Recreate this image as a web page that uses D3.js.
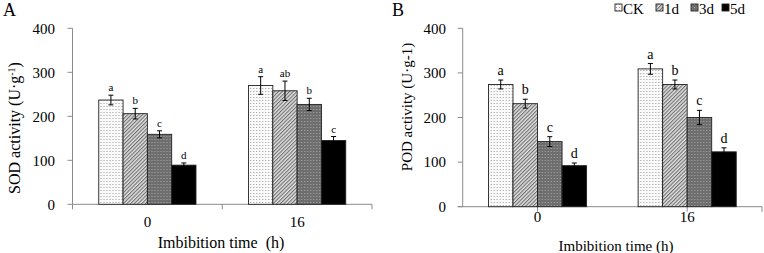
<!DOCTYPE html>
<html><head><meta charset="utf-8">
<script src="https://cdn.jsdelivr.net/npm/d3@7"></script>
<style>body{margin:0;background:#fff}svg{display:block}svg text{font-family:"Liberation Serif","Times New Roman",serif;fill:#000}</style>
</head><body>
<svg id="c" width="764" height="253" font-family="Liberation Serif"></svg>
<script>
const categories = ["0", "16"];
const series = ["CK", "1d", "3d", "5d"];
const yTicks = [0, 100, 200, 300, 400];
// Panel A: SOD
const sodValues = [[237, 206, 159, 89], [270, 258, 227, 145]];
const sodErrors = [[11, 12, 8, 5], [20, 22, 14, 9]];
const sodLetters = [["a", "b", "c", "d"], ["a", "ab", "b", "c"]];
// Panel B: POD
const podValues = [[274, 231, 146, 92], [309, 274, 200, 123]];
const podErrors = [[10, 10, 11, 6], [12, 10, 16, 9]];
const podLetters = [["a", "b", "c", "d"], ["a", "b", "c", "d"]];

const svg = d3.select("#c");
const defs = svg.append("defs");
// CK: white with grey dots
const p1 = defs.append("pattern").attr("id","pCK").attr("patternUnits","userSpaceOnUse").attr("width",3).attr("height",3);
p1.append("rect").attr("width",3).attr("height",3).attr("fill","#fafafa");
p1.append("rect").attr("x",1).attr("y",1).attr("width",1).attr("height",1).attr("fill","#9a9a9a");
// 1d: diagonal hatch
const p2 = defs.append("pattern").attr("id","p1d").attr("patternUnits","userSpaceOnUse").attr("width",2.6).attr("height",2.6).attr("patternTransform","rotate(-45)");
p2.append("rect").attr("width",2.6).attr("height",2.6).attr("fill","#e0e0e0");
p2.append("rect").attr("width",2.6).attr("height",1.1).attr("fill","#707070");
// 3d: dark grey with light dots
const p3 = defs.append("pattern").attr("id","p3d").attr("patternUnits","userSpaceOnUse").attr("width",3).attr("height",3);
p3.append("rect").attr("width",3).attr("height",3).attr("fill","#6e6e6e");
p3.append("rect").attr("x",1).attr("y",1).attr("width",1).attr("height",1).attr("fill","#a8a8a8");
const fills = {"CK":"url(#pCK)","1d":"url(#p1d)","3d":"url(#p3d)","5d":"#000"};
const axisColor = "#8a8a8a";

function panel(o) {
  const g = svg.append("g");
  const y = d3.scaleLinear().domain([0, 400]).range([o.y0, o.y400]);
  const x0 = d3.scaleBand().domain(categories).range([o.xl, o.xr]).padding(0);
  const x1 = d3.scaleBand().domain(series).range([0, x0.bandwidth()]).paddingInner(0).paddingOuter(o.po);
  // y axis
  g.append("line").attr("x1",o.xl).attr("x2",o.xl).attr("y1",y(400)).attr("y2",y(0)).attr("stroke",axisColor);
  g.selectAll(".yt").data(yTicks).join("line").attr("x1",o.xl-5).attr("x2",o.xl).attr("y1",d=>y(d)).attr("y2",d=>y(d)).attr("stroke",axisColor);
  g.selectAll(".yl").data(yTicks).join("text").attr("x",o.ylx).attr("y",d=>y(d)).attr("dy","0.35em")
    .attr("text-anchor","end").attr("font-size",o.tfs).text(d=>d);
  // x axis
  g.append("line").attr("x1",o.xl-(o.xExt||0)).attr("x2",o.xr).attr("y1",y(0)).attr("y2",y(0)).attr("stroke",axisColor);
  g.selectAll(".xt").data(o.xTickPos(x0)).join("line").attr("x1",d=>d).attr("x2",d=>d).attr("y1",y(0)).attr("y2",y(0)+5).attr("stroke",axisColor);
  g.selectAll(".xl").data(categories).join("text").attr("x",d=>x0(d)+x0.bandwidth()/2).attr("y",o.xly)
    .attr("text-anchor","middle").attr("font-size",o.tfs).text(d=>d);
  // bars
  const grp = g.selectAll(".grp").data(categories).join("g").attr("transform",d=>`translate(${x0(d)},0)`);
  grp.each(function(cat, ci) {
    const gg = d3.select(this);
    const rows = series.map((s, si) => ({s, v: o.values[ci][si], e: o.errors[ci][si], l: o.letters[ci][si]}));
    gg.selectAll("rect").data(rows).join("rect").attr("x",d=>x1(d.s)).attr("width",x1.bandwidth())
      .attr("y",d=>y(d.v)).attr("height",d=>y(0)-y(d.v)).attr("fill",d=>fills[d.s]).attr("stroke","#222").attr("stroke-width",0.9);
    const eb = gg.selectAll(".eb").data(rows).join("g").attr("stroke","#000").attr("stroke-width",1);
    eb.append("line").attr("x1",d=>x1(d.s)+x1.bandwidth()/2).attr("x2",d=>x1(d.s)+x1.bandwidth()/2).attr("y1",d=>y(d.v+d.e)).attr("y2",d=>y(d.v-d.e));
    eb.append("line").attr("x1",d=>x1(d.s)+x1.bandwidth()/2-2.5).attr("x2",d=>x1(d.s)+x1.bandwidth()/2+2.5).attr("y1",d=>y(d.v+d.e)).attr("y2",d=>y(d.v+d.e));
    eb.append("line").attr("x1",d=>x1(d.s)+x1.bandwidth()/2-2.5).attr("x2",d=>x1(d.s)+x1.bandwidth()/2+2.5).attr("y1",d=>y(d.v-d.e)).attr("y2",d=>y(d.v-d.e));
    gg.selectAll(".lt").data(rows).join("text").attr("x",d=>x1(d.s)+x1.bandwidth()/2).attr("y",d=>y(d.v+d.e)-o.lgap)
      .attr("text-anchor","middle").attr("font-size",o.lfs).text(d=>d.l);
  });
  // titles
  const yt = g.append("text").attr("transform",`translate(${o.ytx},${o.yty}) rotate(-90)`).attr("text-anchor","middle").attr("font-size",o.ttfs);
  yt.append("tspan").text(o.ytitle);
  if (o.sup) { yt.append("tspan").attr("font-size",o.ttfs*0.62).attr("baseline-shift","super").text(o.sup); yt.append("tspan").text(")"); }
  g.append("text").attr("x",o.xtx).attr("y",o.xty).attr("text-anchor","middle").attr("font-size",o.ttfs).attr("xml:space","preserve").text(o.xtitle);
  g.append("text").attr("x",o.px).attr("y",o.py).attr("font-size",18).text(o.plabel);
}

panel({xl:72.5, xr:372, y0:204.3, y400:28.3, po:1.08, ylx:55, xly:227, tfs:15,
  values:sodValues, errors:sodErrors, letters:sodLetters, lfs:11, lgap:4,
  xTickPos: x0 => [x0.range()[0], ...categories.map(c=>x0(c)+x0.bandwidth())],
  ytitle:"SOD activity (U·g", sup:"-1", ytx:20, yty:128, ttfs:16,
  xtitle:"Imbibition time  (h)", xtx:221, xty:248, plabel:"A", px:3, py:16});

panel({xl:462.7, xr:762, y0:206.7, y400:28.3, po:1.05, ylx:446, xly:222, tfs:15, xExt:5,
  values:podValues, errors:podErrors, letters:podLetters, lfs:14, lgap:5,
  xTickPos: x0 => [...categories.map(c=>x0(c)+x0.bandwidth()/2), x0.range()[1]],
  ytitle:"POD activity (U·g-1)", sup:null, ytx:412, yty:107, ttfs:15,
  xtitle:"Imbibition time (h)", xtx:616, xty:251, plabel:"B", px:392, py:16});

// legend
const legX = [615, 656, 691, 722];
const leg = svg.append("g");
series.forEach((s, i) => {
  leg.append("rect").attr("x",legX[i]).attr("y",4).attr("width",7).attr("height",7).attr("fill",fills[s]).attr("stroke","#222").attr("stroke-width",0.9);
  leg.append("text").attr("x",legX[i]+8).attr("y",13.5).attr("font-size",15).text(s);
});
</script>
</body></html>
